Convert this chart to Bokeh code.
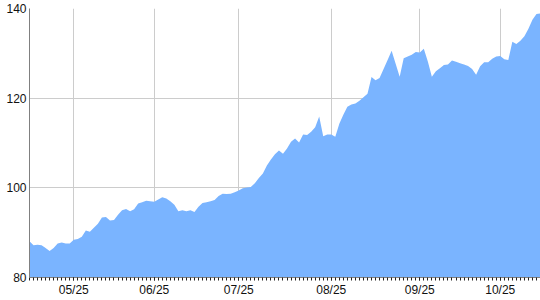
from bokeh.plotting import figure
from bokeh.models import Range1d, FixedTicker
from bokeh.embed import file_html
from bokeh.resources import INLINE

# Daily values (one per trading day)
values = [
    88.1, 87.2, 87.3, 87.2, 86.6, 85.9, 86.6, 87.6, 87.8, 87.6,
    87.6, 88.4, 88.6, 89.1, 90.5, 90.2, 91.1, 92.0, 93.4, 93.5,
    92.7, 92.8, 94.0, 95.0, 95.3, 94.8, 95.2, 96.5, 96.8, 97.1,
    97.0, 96.9, 97.4, 97.9, 97.6, 97.0, 96.2, 94.8, 95.0, 94.8,
    95.0, 94.6, 95.8, 96.6, 96.8, 97.0, 97.3, 98.2, 98.7, 98.6,
    98.7, 99.0, 99.4, 99.9, 100.1, 100.2, 101.0, 102.2, 103.2, 105.0,
    106.3, 107.5, 108.3, 107.6, 108.8, 110.3, 111.0, 110.1, 111.9, 111.8,
    112.5, 113.5, 115.9, 111.5, 111.9, 111.9, 111.4, 114.3, 116.3, 118.1,
    118.6, 118.8, 119.4, 120.2, 121.0, 124.7, 124.0, 124.5, 126.5, 128.5,
    130.6, 127.7, 124.8, 128.9, 129.3, 129.7, 130.3, 130.2, 131.0, 128.2,
    124.8, 126.0, 126.7, 127.4, 127.5, 128.4, 128.1, 127.8, 127.5, 127.2,
    126.5, 125.2, 127.1, 128.0, 128.0, 128.8, 129.3, 129.4, 128.7, 128.5,
    132.6, 132.1, 132.8, 133.8, 135.5, 137.5, 138.8, 138.9,
]
x_index = list(range(len(values)))

# Month boundaries (index of first trading day) and labels
month_index = [11, 31, 52, 75, 97, 117]
month_labels = ["05/25", "06/25", "07/25", "08/25", "09/25", "10/25"]
y_ticks = [80, 100, 120, 140]

p = figure(width=540, height=300, output_backend="svg", toolbar_location=None,
           x_range=Range1d(0, len(values) - 1), y_range=Range1d(80, 140),
           min_border_left=29, min_border_right=0, min_border_top=8,
           min_border_bottom=23)
p.outline_line_color = None
p.background_fill_color = "white"
p.border_fill_color = "white"

p.varea(x=x_index, y1=[0] * len(values), y2=values, fill_color="#7ab4ff",
        fill_alpha=1.0)

# x axis
p.xaxis.ticker = FixedTicker(ticks=month_index, minor_ticks=x_index)
p.xaxis.major_label_overrides = {i: l for i, l in zip(month_index, month_labels)}
p.xaxis.major_tick_out = 3
p.xaxis.major_tick_in = 0
p.xaxis.minor_tick_out = 3
p.xaxis.minor_tick_in = 0
p.xaxis.major_tick_line_color = "#222222"
p.xaxis.minor_tick_line_color = "#222222"
p.xaxis.axis_line_color = "#808080"
p.xaxis.major_label_standoff = 2
p.xaxis.major_label_text_font = "Liberation Sans"
p.xaxis.major_label_text_font_size = "12px"
p.xaxis.major_label_text_color = "#111111"

# y axis
p.yaxis.ticker = FixedTicker(ticks=y_ticks)
p.yaxis.major_tick_out = 0
p.yaxis.major_tick_in = 0
p.yaxis.minor_tick_line_color = None
p.yaxis.axis_line_color = "#808080"
p.yaxis.major_label_standoff = 3
p.yaxis.major_label_text_font = "Liberation Sans"
p.yaxis.major_label_text_font_size = "12px"
p.yaxis.major_label_text_color = "#111111"

p.xgrid.grid_line_color = "#cccccc"
p.ygrid.grid_line_color = "#cccccc"
p.xgrid.ticker = FixedTicker(ticks=month_index)
p.ygrid.ticker = FixedTicker(ticks=y_ticks)

open("out.html", "w").write(file_html(p, INLINE))
